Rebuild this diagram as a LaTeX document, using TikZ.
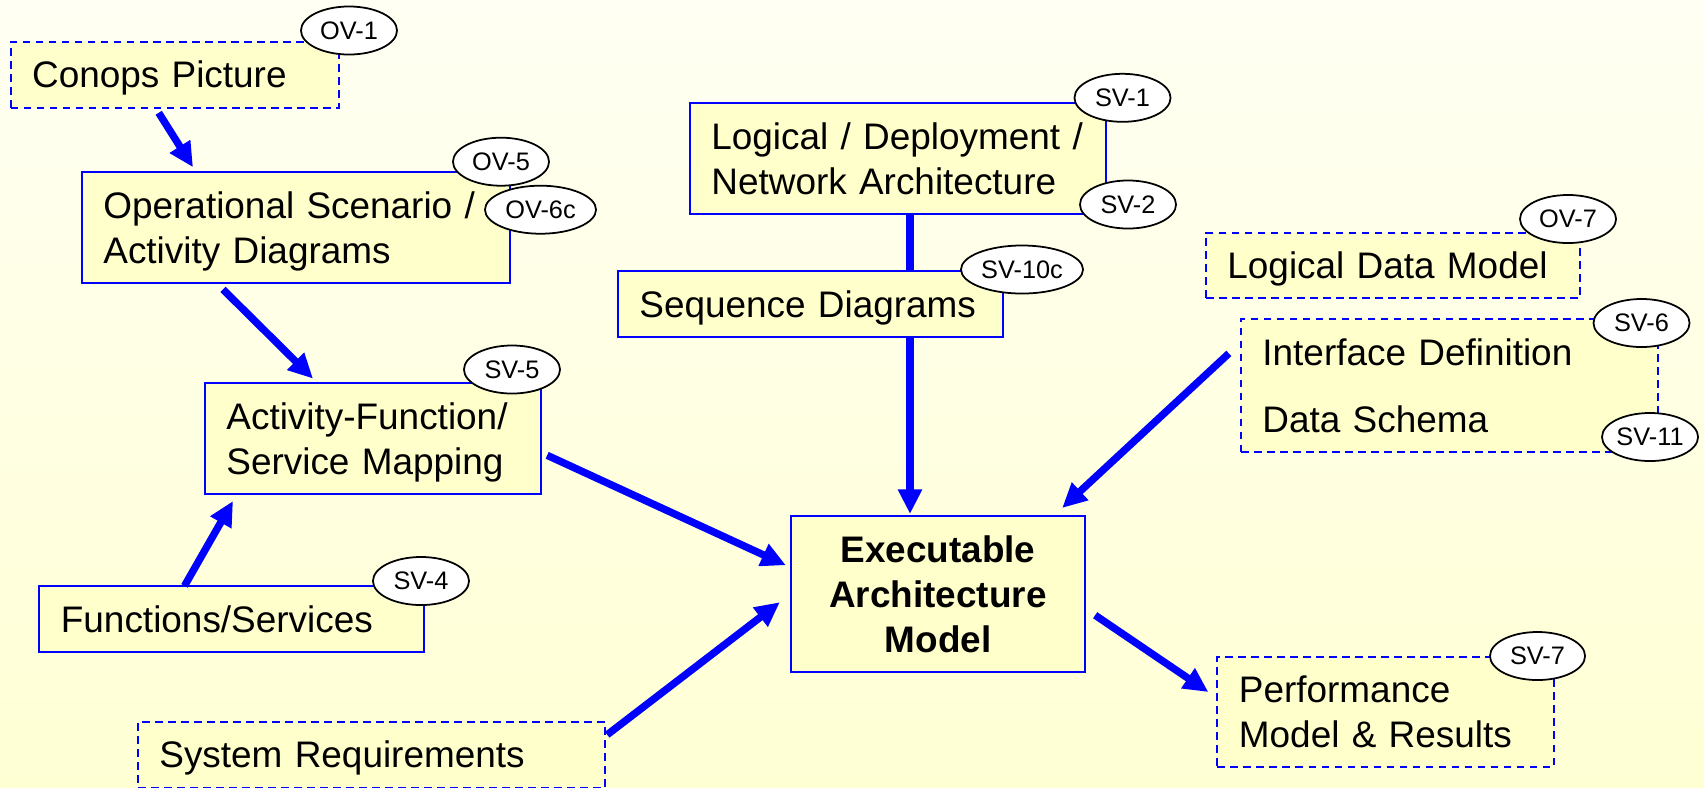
\documentclass[tikz,border=0pt]{standalone}
\usepackage{fontspec}
\setmainfont{Liberation Sans}
\usetikzlibrary{arrows.meta,shapes.geometric}

\definecolor{bgtop}{RGB}{255,255,243}
\definecolor{bgbot}{RGB}{255,255,212}
\definecolor{boxfill}{RGB}{255,255,204}

\begin{document}
\begin{tikzpicture}[x=0.01cm,y=-0.01cm,font=\fontsize{10.5}{12.8}\selectfont,
    box/.style={draw=blue,line width=0.6pt,fill=boxfill,inner xsep=0.215cm,inner ysep=0pt,align=left,
        execute at begin node={\rule{0pt}{10pt}},execute at end node={\rule[-2.5pt]{0pt}{0pt}}},
    dbox/.style={box,dash pattern=on 2.2pt off 1.5pt},
    tag/.style={draw,ellipse,fill=white,line width=0.5pt,inner sep=0pt,minimum height=0.48cm,font=\fontsize{7.2}{8.6}\selectfont},
    arc/.style={draw=blue,line width=2.1pt,-{Triangle[length=7pt,width=6.5pt]}},
    link/.style={draw=blue,line width=2.1pt}]
    \useasboundingbox (0,0) rectangle (1704,787);
    \shade[top color=bgtop,bottom color=bgbot] (0,0) rectangle (1704,787);

    % boxes
    \node[dbox,text width=2.85cm,minimum height=0.66cm] (conops) at (174.7,74.7) {Conops Picture};
    \node[box,text width=3.85cm,minimum height=1.11cm] (opscen) at (296,227.8) {Operational Scenario /\\Activity Diagrams};
    \node[box,text width=2.93cm,minimum height=1.113cm] (activity) at (373,438.3) {Activity-Function/\\Service Mapping};
    \node[box,text width=3.41cm,minimum height=0.657cm] (functions) at (231.5,618.8) {Functions/Services};
    \node[dbox,text width=4.24cm,minimum height=0.66cm] (sysreq) at (371.5,754.7) {System Requirements};
    \node[box,text width=3.73cm,minimum height=1.113cm] (logical) at (898,158.4) {Logical / Deployment /\\Network Architecture};
    \node[box,text width=3.42cm,minimum height=0.666cm] (seq) at (810.5,304) {Sequence Diagrams};
    \node[dbox,text width=3.31cm,minimum height=0.656cm] (ldm) at (1393,265.5) {Logical Data Model};
    \node[dbox,text width=3.74cm,minimum height=1.327cm] (interface) at (1449.5,385.4) {Interface Definition\\[6.2pt]Data Schema};
    \node[box,text width=2.51cm,minimum height=1.563cm,align=center,font=\fontsize{10.5}{12.8}\selectfont\bfseries] (exec) at (938,594.2) {Executable\\Architecture\\Model};
    \node[dbox,text width=2.93cm,minimum height=1.106cm] (perf) at (1385.5,712) {Performance\\Model \& Results};

    % view tags
    \foreach [count=\i] \x/\y/\w/\txt in {349/30.5/0.96/OV-1,501/161.7/0.96/OV-5,540.5/209.7/1.11/OV-6c,
        1122.5/97.8/0.96/SV-1,1128/204.5/0.96/SV-2,1022/269.5/1.22/SV-10c,1568/219/0.96/OV-7,
        1641.5/323/0.96/SV-6,1650/437/0.96/SV-11,512/369.5/0.96/SV-5,421/581/0.96/SV-4,1537.5/656/0.95/SV-7}{
        \node[tag,minimum width=\w cm] (tag\i) at (\x,\y) {\txt};
    }

    % connectors
    \draw[arc] ([shift={(-16,4)}]conops.south) -- ([shift={(-103,-4)}]opscen.north);
    \draw[arc] ([shift={(-73,5)}]opscen.south) -- ([shift={(-60,-3)}]activity.north);
    \draw[arc] ([shift={(-47,1)}]functions.north) -- ([shift={(-140,6)}]activity.south);
    \draw[link] ([shift={(12,0)}]logical.south) -- ([shift={(99.5,0)}]seq.north);
    \draw[arc] ([shift={(99.5,0)}]seq.south) -- ([shift={(-28,-1)}]exec.north);
    \draw[arc] ([shift={(5,17)}]activity.east) -- ([shift={(-4,-29)}]exec.west);
    \draw[arc] ([shift={(1,-20)}]sysreq.east) -- ([shift={(-10,8)}]exec.west);
    \draw[arc] ([shift={(-11,-32)}]interface.west) -- ([shift={(-24,-7)}]exec.north east);
    \draw[arc] ([shift={(9,21)}]exec.east) -- ([shift={(-8,-20)}]perf.west);
\end{tikzpicture}
\end{document}
